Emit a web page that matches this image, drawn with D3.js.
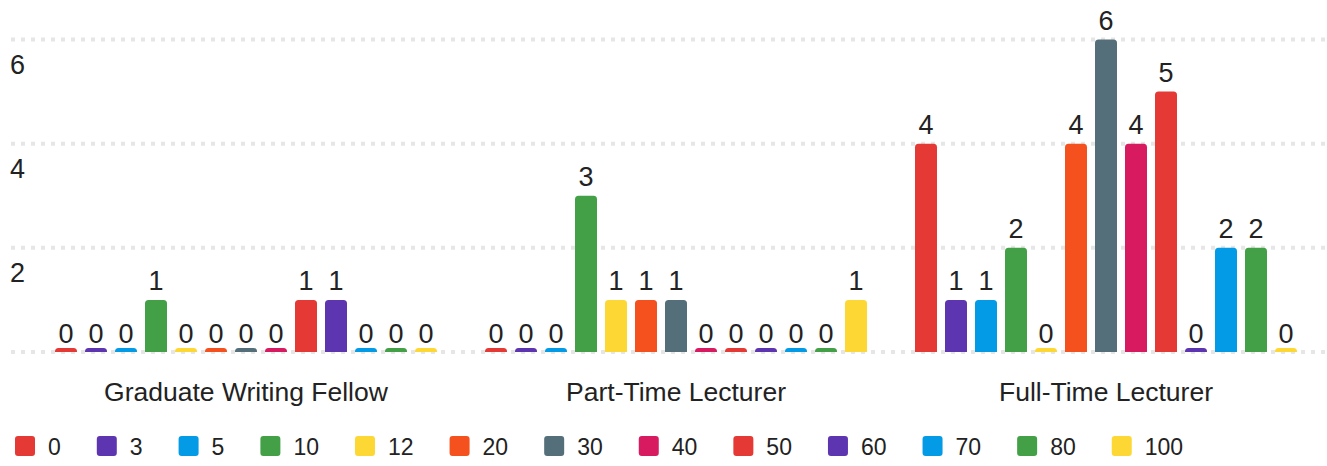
<!DOCTYPE html>
<html lang="en">
<head>
    <meta charset="UTF-8" />
    <title>Grouped bar chart</title>
    <script src="https://d3js.org/d3.v7.min.js"></script>
    <style>
        body { margin: 0; background: #fff; }
        svg { display: block; font-family: "Liberation Sans", Arial, sans-serif; }
        .grid line { stroke: #e6e6e6; stroke-width: 4; stroke-dasharray: 4 6; }
        text { fill: #222; }
    </style>
</head>
<body>
    <script>
        // data
        const categories = ['Graduate Writing Fellow', 'Part-Time Lecturer', 'Full-Time Lecturer'];
        const seriesNames = ['0', '3', '5', '10', '12', '20', '30', '40', '50', '60', '70', '80', '100'];
        const seriesColors = ['#e53935', '#5e35b1', '#039be5', '#43a047', '#fdd835', '#f4511e', '#546e7a',
            '#d81b60', '#e53935', '#5e35b1', '#039be5', '#43a047', '#fdd835'];
        const gradFellow = [0, 0, 0, 1, 0, 0, 0, 0, 1, 1, 0, 0, 0];
        const partTime = [0, 0, 0, 3, 1, 1, 1, 0, 0, 0, 0, 0, 1];
        const fullTime = [4, 1, 1, 2, 0, 4, 6, 4, 5, 0, 2, 2, 0];
        const yTicks = [2, 4, 6];

        const values = [gradFellow, partTime, fullTime];
        const width = 1327, height = 466;

        const svg = d3.select('body').append('svg').attr('width', width).attr('height', height);

        const x0 = d3.scaleBand().domain(categories).range([31, 1321]);
        const x1 = d3.scaleBand().domain(seriesNames).range([20, 410]).paddingInner(8 / 30).paddingOuter(4 / 30);
        const y = d3.scaleLinear().domain([0, 6]).range([352, 39.5]);

        // dotted grid lines incl. baseline
        svg.append('g').attr('class', 'grid')
            .selectAll('line')
            .data([0].concat(yTicks))
            .join('line')
            .attr('x1', 11).attr('x2', width)
            .attr('y1', d => y(d)).attr('y2', d => y(d));

        svg.append('g')
            .selectAll('text')
            .data(yTicks)
            .join('text')
            .attr('x', 10)
            .attr('y', d => y(d) + 34)
            .attr('font-size', 27)
            .text(d => d);

        // bar with rounded top corners
        function barPath(x, top, w, bottom) {
            const h = bottom - top;
            const r = Math.min(3.5, h, w / 2);
            return `M${x},${bottom}V${top + r}Q${x},${top} ${x + r},${top}H${x + w - r}Q${x + w},${top} ${x + w},${top + r}V${bottom}Z`;
        }

        const groups = svg.append('g')
            .selectAll('g')
            .data(categories)
            .join('g')
            .attr('transform', d => `translate(${x0(d)},0)`);

        groups.each(function (cat, ci) {
            const g = d3.select(this);
            const rows = seriesNames.map((s, i) => ({ s, i, v: values[ci][i] }));
            const topOf = d => Math.min(y(d.v), y(0) - 4);

            g.selectAll('path')
                .data(rows)
                .join('path')
                .attr('fill', d => seriesColors[d.i])
                .attr('d', d => barPath(x1(d.s), topOf(d), x1.bandwidth(), y(0)));

            g.selectAll('text')
                .data(rows)
                .join('text')
                .attr('x', d => x1(d.s) + x1.bandwidth() / 2)
                .attr('y', d => y(d.v) - 9.5)
                .attr('text-anchor', 'middle')
                .attr('font-size', 27)
                .text(d => d.v);
        });

        // category labels
        svg.append('g')
            .selectAll('text')
            .data(categories)
            .join('text')
            .attr('x', d => x0(d) + x0.bandwidth() / 2)
            .attr('y', 401)
            .attr('text-anchor', 'middle')
            .attr('font-size', 26.5)
            .text(d => d);

        // legend
        const legend = svg.append('g');
        let lx = 15;
        seriesNames.forEach((s, i) => {
            legend.append('rect')
                .attr('x', lx).attr('y', 436)
                .attr('width', 20).attr('height', 20)
                .attr('rx', 3)
                .attr('fill', seriesColors[i]);
            const t = legend.append('text')
                .attr('x', lx + 33).attr('y', 455)
                .attr('font-size', 23)
                .text(s);
            lx += 33 + t.node().getComputedTextLength() + 36;
        });
    </script>
</body>
</html>
